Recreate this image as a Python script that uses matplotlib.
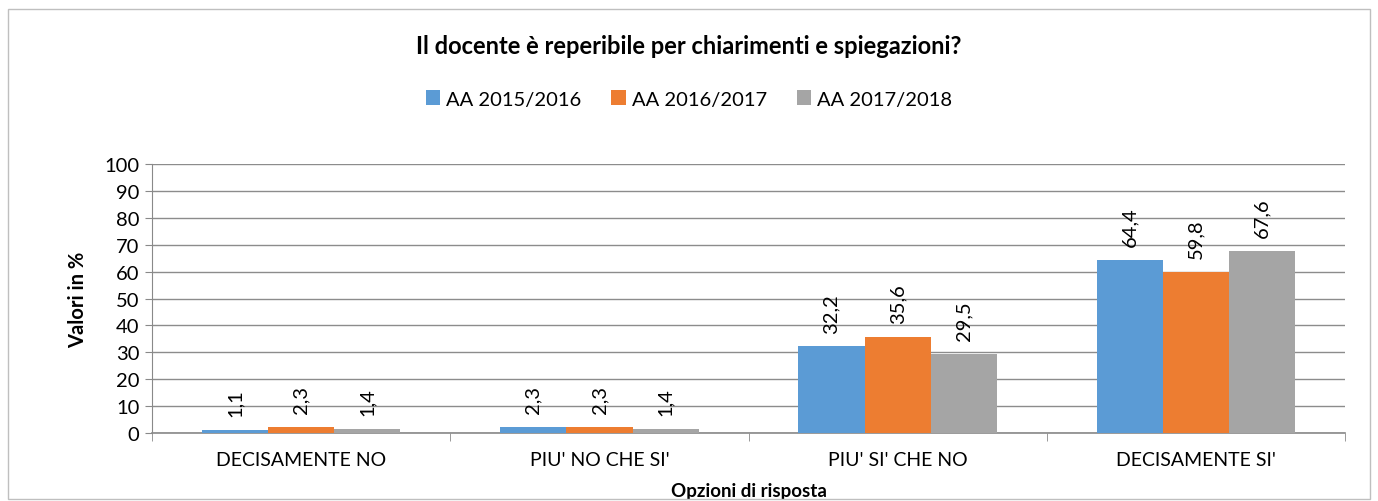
import matplotlib
matplotlib.use("Agg")
import matplotlib.pyplot as plt
import numpy as np
from matplotlib.patches import Rectangle

categories = ["DECISAMENTE NO", "PIU' NO CHE SI'", "PIU' SI' CHE NO", "DECISAMENTE SI'"]
series_names = ["AA 2015/2016", "AA 2016/2017", "AA 2017/2018"]
v2015 = [1.1, 2.3, 32.2, 64.4]
v2016 = [2.3, 2.3, 35.6, 59.8]
v2017 = [1.4, 1.4, 29.5, 67.6]
colors = ["#5B9BD5", "#ED7D31", "#A5A5A5"]
yticks = list(range(0, 101, 10))

plt.rcParams['font.family'] = ['Lato', 'DejaVu Sans']

fig = plt.figure(figsize=(13.78, 5.02), dpi=100)
ax = fig.add_axes([0.1103, 0.1355, 0.8658, 0.5355])

x = np.arange(len(categories))
w = 0.222
for i, (vals, name, c) in enumerate(zip([v2015, v2016, v2017], series_names, colors)):
    pos = x + (i - 1) * w
    bars = ax.bar(pos, vals, width=w, color=c, label=name, zorder=3)
    for b, v in zip(bars, vals):
        ax.annotate(f"{v:.1f}".replace('.', ','), (b.get_x() + b.get_width() / 2, v),
                    xytext=(0, 10), textcoords='offset points', rotation=90,
                    ha='center', va='bottom', fontsize=14.5, color='#000000')

ax.set_xlim(-0.5, len(categories) - 0.5)
ax.set_ylim(0, 100)
ax.set_yticks(yticks)
ax.tick_params(axis='y', labelsize=14.5, length=5, color='#898989', pad=4)
ax.yaxis.grid(True, color='#8C8C8C', linewidth=1, zorder=0)
ax.set_xticks(x)
ax.set_xticklabels(categories, fontsize=14)
ax.tick_params(axis='x', length=0, pad=13)
ax.set_xticks(np.arange(-0.5, len(categories)), minor=True)
ax.tick_params(axis='x', which='minor', length=6, color='#898989')
for s in ['top', 'right']:
    ax.spines[s].set_visible(False)
ax.spines['left'].set_color('#898989')
ax.spines['bottom'].set_color('#898989')
ax.spines['bottom'].set_linewidth(1.2)

ax.set_ylabel("Valori in %", fontsize=14.5, fontweight='bold', labelpad=12)
ax.set_xlabel("Opzioni di risposta", fontsize=13.5, fontweight='bold', labelpad=10)

fig.text(0.5, 1 - 46 / 502, "Il docente è reperibile per chiarimenti e spiegazioni?",
         ha='center', va='center', fontsize=17, fontweight='bold')
fig.legend(loc='center', bbox_to_anchor=(0.5, 1 - 100 / 502), ncol=3, frameon=False,
           fontsize=14.5, handlelength=0.7, handleheight=0.7, handletextpad=0.3,
           columnspacing=1.5)

fig.patches.append(Rectangle((8 / 1378, 2 / 502), 1362 / 1378, 490 / 502,
                             transform=fig.transFigure, fill=False,
                             edgecolor='#BFBFBF', linewidth=1))

fig.savefig("out.png", dpi=100)
